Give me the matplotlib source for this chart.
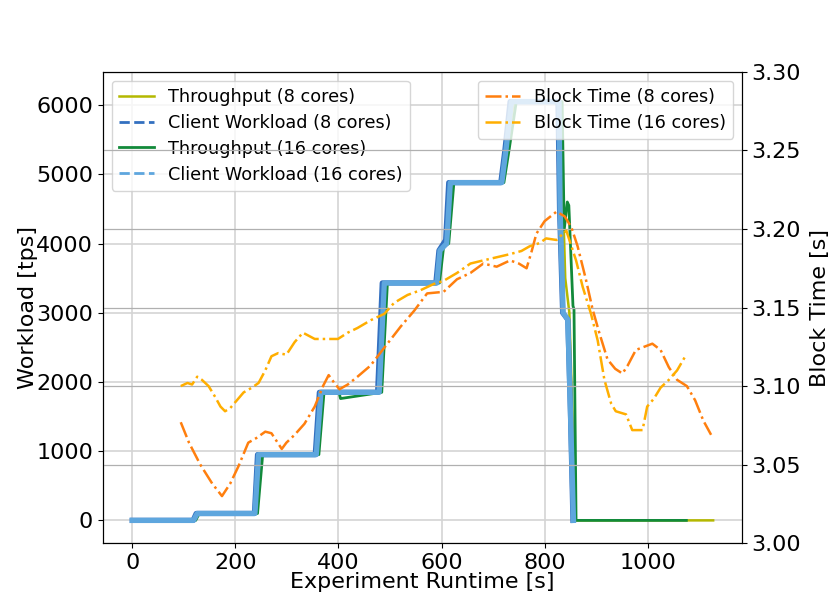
import matplotlib
matplotlib.use("Agg")
import matplotlib.pyplot as plt
from matplotlib.lines import Line2D
from matplotlib.ticker import FormatStrFormatter

# Workload [tps]
t_cw8 = [0, 118, 124, 237, 243, 355, 363, 476, 485, 589, 595, 608, 614, 715, 723, 733, 826, 829, 835, 845, 850, 855]
v_cw8 = [0, 0, 100, 100, 950, 950, 1850, 1850, 3430, 3430, 3900, 4050, 4880, 4880, 5350, 6050, 6050, 4500, 3000, 2900, 1600, 0]

t_cw16 = [0, 119, 126, 238, 245, 357, 366, 479, 489, 591, 597, 610, 617, 717, 725, 736, 828, 830, 836, 845, 850, 856]
v_cw16 = [0, 0, 100, 100, 950, 950, 1850, 1850, 3430, 3430, 3900, 4000, 4880, 4880, 5350, 6050, 6050, 4500, 3000, 2900, 1600, 0]

t_tp8 = [0, 121, 128, 240, 249, 359, 369, 481, 492, 593, 600, 612, 620, 719, 728, 740, 830, 833, 840, 848, 854, 860, 1127]
v_tp8 = [0, 0, 100, 100, 950, 950, 1850, 1850, 3430, 3430, 3950, 4000, 4880, 4880, 5350, 6050, 6050, 5300, 3500, 3000, 1500, 0, 0]

t_tp16 = [0, 123, 130, 243, 253, 362, 372, 401, 404, 484, 495, 596, 604, 614, 624, 721, 731, 745, 834, 838, 844, 847, 855, 857, 861, 1075]
v_tp16 = [0, 0, 100, 100, 950, 950, 1850, 1850, 1760, 1850, 3430, 3430, 3950, 4000, 4880, 4880, 5350, 6050, 6050, 4200, 4600, 4550, 3100, 3050, 0, 0]

# Block time [s]
t_bt8 = [94, 110, 132, 155, 174, 190, 206, 225, 241, 258, 270, 290, 299, 315, 334, 354, 370, 381, 392, 402,
         418, 437, 462, 495, 521, 547, 572, 604, 630, 656, 681, 707, 733, 750, 765, 775, 784, 800, 823, 839,
         852, 864, 880, 893, 906, 922, 937, 951, 961, 977, 993, 1009, 1025, 1041, 1057, 1076, 1092, 1108, 1123]
bt8 = [3.077, 3.064, 3.050, 3.038, 3.030, 3.038, 3.049, 3.064, 3.067, 3.071, 3.070, 3.060, 3.064, 3.069, 3.076,
       3.087, 3.100, 3.107, 3.102, 3.098, 3.101, 3.106, 3.113, 3.127, 3.138, 3.148, 3.159, 3.160, 3.168, 3.172,
       3.178, 3.176, 3.180, 3.178, 3.175, 3.186, 3.197, 3.205, 3.211, 3.208, 3.201, 3.189, 3.168, 3.149, 3.134,
       3.117, 3.111, 3.108, 3.113, 3.123, 3.125, 3.127, 3.123, 3.112, 3.104, 3.100, 3.091, 3.078, 3.069]

t_bt16 = [94, 107, 116, 126, 135, 148, 161, 171, 180, 190, 203, 216, 232, 245, 258, 270, 283, 299, 315, 331,
          354, 373, 399, 418, 437, 463, 489, 508, 534, 559, 585, 604, 630, 656, 681, 707, 733, 755, 771, 790,
          803, 823, 842, 861, 874, 890, 903, 916, 929, 938, 958, 970, 990, 999, 1012, 1025, 1041, 1057, 1073]
bt16 = [3.100, 3.102, 3.101, 3.106, 3.104, 3.100, 3.093, 3.087, 3.084, 3.086, 3.091, 3.096, 3.099, 3.102, 3.110,
        3.119, 3.121, 3.120, 3.128, 3.134, 3.130, 3.130, 3.130, 3.134, 3.137, 3.142, 3.146, 3.153, 3.158, 3.161,
        3.165, 3.167, 3.172, 3.178, 3.180, 3.182, 3.184, 3.186, 3.189, 3.191, 3.194, 3.193, 3.199, 3.180, 3.163,
        3.146, 3.129, 3.104, 3.089, 3.084, 3.082, 3.072, 3.072, 3.087, 3.092, 3.099, 3.104, 3.110, 3.119]

c_tp8 = '#b4b800'
c_cw8 = '#3370c0'
c_tp16 = '#128a3a'
c_cw16 = '#5ea6de'
c_bt8 = '#ff7f0e'
c_bt16 = '#ffae00'

plt.rcParams.update({'font.size': 16})

fig, ax1 = plt.subplots(figsize=(8.3, 6.09), dpi=100)
fig.subplots_adjust(left=0.124, right=0.894, top=0.882, bottom=0.108)

ax1.plot(t_tp8, v_tp8, color=c_tp8, lw=1.8)
ax1.plot(t_cw8, v_cw8, color=c_cw8, lw=3.8)
ax1.plot(t_tp16, v_tp16, color=c_tp16, lw=2)
ax1.plot(t_cw16, v_cw16, color=c_cw16, lw=3.8)

ax1.set_xlim(-57, 1183)
ax1.set_ylim(-330, 6480)
ax1.set_xticks([0, 200, 400, 600, 800, 1000])
ax1.set_xlabel("Experiment Runtime [s]", labelpad=-1)
ax1.set_ylabel("Workload [tps]", labelpad=-1)
ax1.grid(True, color='#d4d4d4', lw=1.2)

handles1 = [
    Line2D([], [], color=c_tp8, lw=1.8),
    Line2D([], [], color=c_cw8, lw=2, ls='--'),
    Line2D([], [], color=c_tp16, lw=2),
    Line2D([], [], color=c_cw16, lw=2, ls='--'),
]
labels1 = ["Throughput (8 cores)", "Client Workload (8 cores)",
           "Throughput (16 cores)", "Client Workload (16 cores)"]
ax1.legend(handles1, labels1, loc='upper left', fontsize=12.7, labelspacing=0.45)

ax2 = ax1.twinx()
ax2.plot(t_bt8, bt8, color=c_bt8, ls='-.', lw=1.8, label="Block Time (8 cores)")
ax2.plot(t_bt16, bt16, color=c_bt16, ls='-.', lw=1.8, label="Block Time (16 cores)")
ax2.set_ylim(3.0, 3.3)
ax2.set_yticks([3.00, 3.05, 3.10, 3.15, 3.20, 3.25, 3.30])
ax2.yaxis.set_major_formatter(FormatStrFormatter('%.2f'))
ax2.set_ylabel("Block Time [s]", labelpad=6)
ax2.grid(True, color='#b0b0b0', lw=0.9)
ax2.legend(loc='upper right', fontsize=12.7, labelspacing=0.45)

fig.savefig("out.png", dpi=100)
